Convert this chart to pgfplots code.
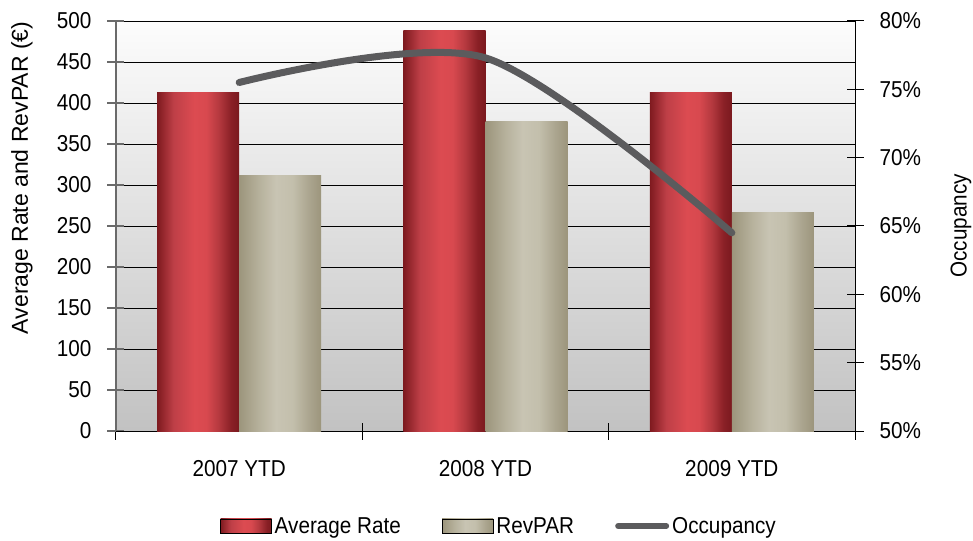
\documentclass[border=0pt]{standalone}
\usepackage{fontspec}
\setmainfont{Liberation Sans}[FakeStretch=0.9]
\newfontfamily\labelfont{Liberation Sans}
\usepackage{pgfplots}
\pgfplotsset{compat=1.18}
\newcommand\fs{\fontsize{23}{27.6}\selectfont}
\definecolor{lineg}{HTML}{5B5B5D}
\definecolor{axg}{HTML}{6A6A6A}
\pgfdeclarehorizontalshading{avgshade}{100bp}{%
  color(0bp)=(rgb,255:red,126;green,26;blue,31);
  color(25bp)=(rgb,255:red,126;green,26;blue,31);
  color(35bp)=(rgb,255:red,190;green,63;blue,71);
  color(47.5bp)=(rgb,255:red,220;green,75;blue,81);
  color(55bp)=(rgb,255:red,216;green,73;blue,79);
  color(62.5bp)=(rgb,255:red,181;green,57;blue,63);
  color(70bp)=(rgb,255:red,138;green,32;blue,38);
  color(75bp)=(rgb,255:red,122;green,25;blue,30);
  color(100bp)=(rgb,255:red,122;green,25;blue,30)}
\pgfdeclarehorizontalshading{revshade}{100bp}{%
  color(0bp)=(rgb,255:red,156;green,149;blue,124);
  color(25bp)=(rgb,255:red,156;green,149;blue,124);
  color(37.5bp)=(rgb,255:red,183;green,178;blue,157);
  color(47.5bp)=(rgb,255:red,200;green,196;blue,179);
  color(57.5bp)=(rgb,255:red,195;green,191;blue,172);
  color(67.5bp)=(rgb,255:red,171;green,165;blue,143);
  color(75bp)=(rgb,255:red,156;green,149;blue,124);
  color(100bp)=(rgb,255:red,156;green,149;blue,124)}
\pgfplotsset{
  /pgf/number format/assume math mode=true,
  every tick label/.append style={font=\fs},
}
\begin{document}
\begin{tikzpicture}
\path[use as bounding box] (-116pt,-109pt) rectangle (857pt,431pt);
\begin{axis}[
  scale only axis, width=739pt, height=410pt,
  xmin=-0.5, xmax=2.5, ymin=0, ymax=500,
  axis x line*=bottom, axis y line*=left,
  x axis line style={-, black, line width=1pt},
  y axis line style={-, axg, line width=2.2pt},
  axis background/.style={top color=white!99!black, bottom color=black!24},
  xtick={-0.5,0.5,1.5,2.5}, xticklabels={},
  extra x ticks={0,1,2},
  extra x tick labels={2007 YTD,2008 YTD,2009 YTD},
  extra x tick style={major tick length=0pt, grid=none},
  xticklabel style={anchor=center, yshift=-38pt},
  xtick style={black, line width=1pt},
  ytick={0,50,...,500},
  ytick style={axg, line width=2pt},
  yticklabel style={anchor=east, inner sep=0pt, xshift=-16pt},
  tick align=center, major tick length=17pt,
  ymajorgrids, grid style={black, line width=0.8pt},
  ylabel={\labelfont\fs Average Rate and RevPAR (€)},
  every axis y label/.style={at={(axis description cs:-0.1272,0.617)}, rotate=90, anchor=center},
]
\addplot[ybar, bar width=0.333, bar shift=-0.1665, draw=none, shade, shading=avgshade] coordinates {(0,413)};
\addplot[ybar, bar width=0.333, bar shift=-0.1665, draw=none, shade, shading=avgshade] coordinates {(1,489)};
\addplot[ybar, bar width=0.333, bar shift=-0.1665, draw=none, shade, shading=avgshade] coordinates {(2,413)};
\addplot[ybar, bar width=0.333, bar shift=0.1665, draw=none, shade, shading=revshade] coordinates {(0,312)};
\addplot[ybar, bar width=0.333, bar shift=0.1665, draw=none, shade, shading=revshade] coordinates {(1,378)};
\addplot[ybar, bar width=0.333, bar shift=0.1665, draw=none, shade, shading=revshade] coordinates {(2,267)};
\end{axis}
\begin{axis}[
  scale only axis, width=739pt, height=410pt,
  xmin=-0.5, xmax=2.5, ymin=50, ymax=80,
  axis y line*=right, axis x line=none,
  y axis line style={-, black, line width=1pt},
  ytick={50,55,...,80},
  yticklabel={\pgfmathprintnumber{\tick}\%},
  ytick style={black, line width=1pt},
  yticklabel style={anchor=west, inner sep=0pt, xshift=16pt},
  tick align=center, major tick length=17pt,
  ylabel={\fs Occupancy},
  every axis y label/.style={at={(axis description cs:1.1434,0.5)}, rotate=90, anchor=center},
  legend columns=3,
  legend style={draw=none, fill=none, font=\fs, at={(axis description cs:0.519,-0.2317)}, anchor=center,
    /tikz/every even column/.append style={column sep=38pt},
    nodes={inner sep=3pt}},
]
\addlegendimage{legend image code/.code={\shade[shading=avgshade] (0pt,-7pt) rectangle (51pt,7pt);}}
\addlegendentry{Average Rate}
\addlegendimage{legend image code/.code={\shade[shading=revshade] (0pt,-7pt) rectangle (51pt,7pt);}}
\addlegendentry{RevPAR}
\addplot[lineg, line width=7pt, smooth, line cap=round,
  legend image code/.code={\draw[lineg, line width=6pt, line cap=round] (3pt,0pt) -- (51pt,0pt);}]
  coordinates {(0,75.5) (1,77.3) (2,64.5)};
\addlegendentry{Occupancy}
\end{axis}
\end{tikzpicture}
\end{document}
